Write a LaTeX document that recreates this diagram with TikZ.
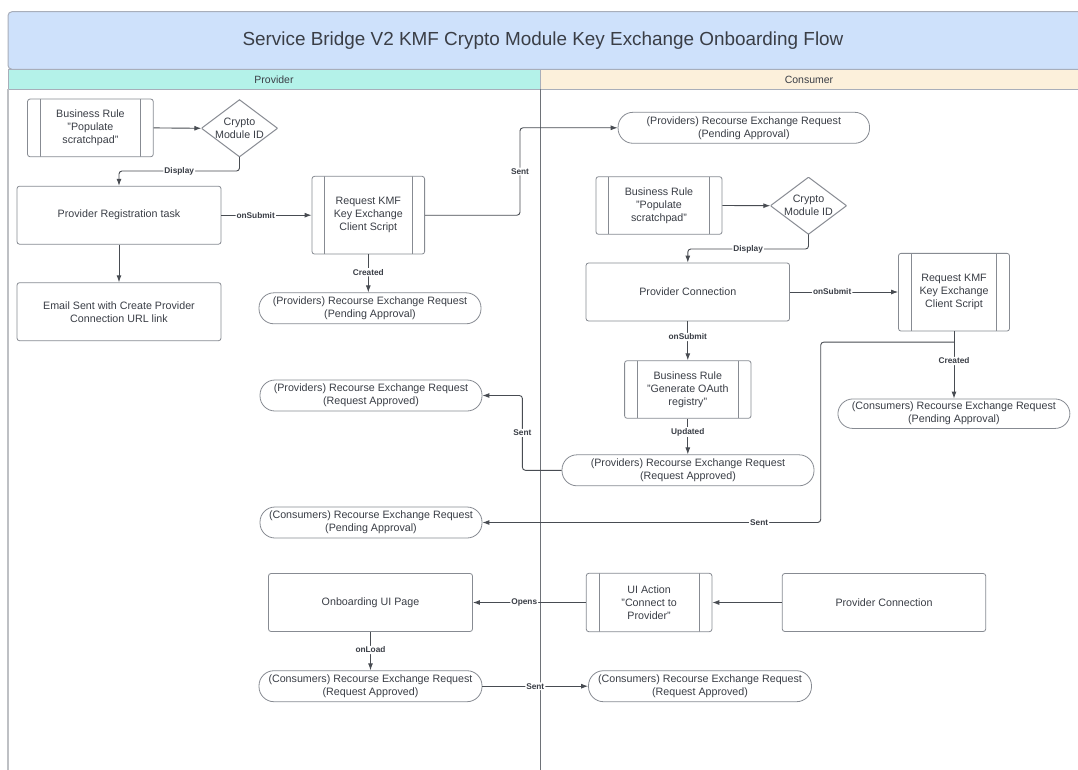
\documentclass[tikz,border=0pt]{standalone}
\usepackage{fontspec}
\setmainfont{Liberation Sans}
\usetikzlibrary{arrows.meta,calc}
\definecolor{titlefill}{RGB}{206,225,251}
\definecolor{provfill}{RGB}{180,242,233}
\definecolor{consfill}{RGB}{252,240,219}
\definecolor{bandline}{RGB}{168,174,186}
\definecolor{nodeline}{RGB}{135,139,146}
\definecolor{txt}{RGB}{58,62,70}
\definecolor{arrcol}{RGB}{72,76,82}
\definecolor{laneline}{RGB}{110,114,120}
\definecolor{leftline}{RGB}{190,192,196}
\begin{document}
\begin{tikzpicture}[x=1pt,y=-1pt,
  base/.style={draw=nodeline, line width=0.8pt, fill=white, text=txt,
    font=\fontsize{10.7}{13}\selectfont, align=center, inner sep=0pt},
  task/.style={base, rounded corners=2.5pt, minimum width=204, minimum height=58},
  proc/.style={base, rounded corners=2.5pt,
    path picture={\draw[nodeline, line width=0.8pt]
      ([xshift=12.7pt]path picture bounding box.north west) -- ([xshift=12.7pt]path picture bounding box.south west)
      ([xshift=-12.7pt]path picture bounding box.north east) -- ([xshift=-12.7pt]path picture bounding box.south east);}},
  pill/.style={base, rounded corners=15pt, minimum height=31},
  diam/.style={text=txt, font=\fontsize{10.7}{13}\selectfont, align=center, inner sep=0pt,
    minimum width=76, minimum height=57,
    path picture={\draw[nodeline, line width=1pt, fill=white]
      (path picture bounding box.north) -- (path picture bounding box.east) --
      (path picture bounding box.south) -- (path picture bounding box.west) -- cycle;}},
  arr/.style={draw=arrcol, line width=0.9pt, rounded corners=3pt, -{Latex[length=7pt,width=5pt]}},
  plain/.style={draw=arrcol, line width=0.9pt, rounded corners=3pt},
  lbl/.style={font=\fontsize{8.3}{9}\selectfont\bfseries, text=txt, fill=white, inner sep=1pt},
  hdr/.style={font=\fontsize{10.5}{12}\selectfont, text=txt},
]
\useasboundingbox (0,0) rectangle (1078,770);
\fill[white] (0,0) rectangle (1078,770);

% title and lane headers
\draw[draw=bandline, fill=titlefill, line width=1pt, rounded corners=4pt] (8,69.3) -- (8,11.7) -- (1090,11.7) -- (1090,69.3) -- cycle;
\node[font=\fontsize{18.9}{22}\selectfont, text=txt] (title) at (543,40.5) {Service Bridge V2 KMF Crypto Module Key Exchange Onboarding Flow};
\draw[draw=bandline, fill=provfill, line width=1pt] (8,69.3) rectangle (540.4,89.5);
\draw[draw=bandline, fill=consfill, line width=1pt] (540.4,69.3) rectangle (1090,89.5);
\node[hdr] (provh) at (274,79.4) {Provider};
\node[hdr] (consh) at (809,79.4) {Consumer};
\draw[leftline, line width=1.6pt] (8,89.5) -- (8,775);
\draw[laneline, line width=0.9pt] (540.4,89.5) -- (540.4,775);

% helper coordinates for connector bends
\coordinate (sx1) at (520,0);
\coordinate (sx2) at (522.4,0);
\coordinate (sx3) at (820.7,0);

% provider lane
\node[proc, minimum width=125.7, minimum height=57.7] (br1) at (90.4,127.9) {Business Rule\\"Populate\\scratchpad"};
\node[diam] (d1) at (239.5,128.3) {Crypto\\Module ID};
\node[task] (prt) at (119,215.2) {Provider Registration task};
\node[task] (email) at (119,311.7) {Email Sent with Create Provider\\Connection URL link};
\node[proc, minimum width=112.6, minimum height=77.7] (rk1) at (368.3,215.2) {Request KMF\\Key Exchange\\Client Script};
\node[pill, minimum width=222] (per1) at (370,308.3) {(Providers) Recourse Exchange Request\\(Pending Approval)};
\node[pill, minimum width=222] (pra1) at (371,395.5) {(Providers) Recourse Exchange Request\\(Request Approved)};
\node[pill, minimum width=222] (cpa2) at (371,522.5) {(Consumers) Recourse Exchange Request\\(Pending Approval)};
\node[task] (oui) at (370.5,602.5) {Onboarding UI Page};
\node[pill, minimum width=223] (cra) at (370.5,686.2) {(Consumers) Recourse Exchange Request\\(Request Approved)};

% consumer lane
\node[pill, minimum width=251.5] (ppa) at (743.8,127.8) {(Providers) Recourse Exchange Request\\(Pending Approval)};
\node[proc, minimum width=126, minimum height=57.6] (br2) at (659,205.5) {Business Rule\\"Populate\\scratchpad"};
\node[diam] (d2) at (808.5,205.7) {Crypto\\Module ID};
\node[task, minimum width=203.5] (pc) at (687.8,292) {Provider Connection};
\node[proc, minimum width=111, minimum height=77.7] (rk2) at (954,292.2) {Request KMF\\Key Exchange\\Client Script};
\node[pill, minimum width=232, minimum height=29.5] (cpa) at (953.9,413.7) {(Consumers) Recourse Exchange Request\\(Pending Approval)};
\node[proc, minimum width=126.4, minimum height=57.6] (br3) at (687.8,389.5) {Business Rule\\"Generate OAuth\\registry"};
\node[pill, minimum width=252] (pra2) at (688,470.3) {(Providers) Recourse Exchange Request\\(Request Approved)};
\node[proc, minimum width=125.6, minimum height=58.4] (uia) at (649.1,602.5) {UI Action\\"Connect to\\Provider"};
\node[task, minimum width=203.4] (pc2) at (884,602.5) {Provider Connection};
\node[pill, minimum width=223] (cra2) at (700,686.2) {(Consumers) Recourse Exchange Request\\(Request Approved)};

% connectors, provider side
\draw[arr] (br1.east) -- (d1.west);
\draw[arr] (d1.south) -- ++(0,14) -| node[lbl, pos=0.25] {Display} (prt.north);
\draw[arr] (prt) -- (email);
\draw[arr] (prt.east) -- node[lbl, pos=0.38] {onSubmit} (rk1.west);
\draw[arr] (rk1.south) -- node[lbl, pos=0.47] {Created} (rk1.south |- per1.north);
\draw[arr] (rk1.east) -- (rk1.east -| sx1) |- node[lbl, pos=0.25] {Sent} (ppa.west);

% connectors, consumer side
\draw[arr] (br2.east) -- (d2.west);
\draw[arr] (d2.south) -- ++(0,14.6) -| node[lbl, pos=0.25] {Display} (pc.north);
\draw[arr] (pc.east) -- node[lbl, pos=0.39] {onSubmit} (rk2.west |- pc.east);
\draw[arr] (pc.south) -- node[lbl, pos=0.4] {onSubmit} (br3.north);
\draw[arr] (br3.south) -- node[lbl, pos=0.37] {Updated} (br3.south |- pra2.north);
\draw[arr] (pra2.west) -- (pra2.west -| sx2) |- node[lbl, pos=0.25] {Sent} (pra1.east);
\draw[arr] (rk2.south) -- node[lbl, pos=0.44] {Created} (rk2.south |- cpa.north);
\coordinate (jn) at ($(rk2.south)+(0,10.7)$);
\draw[arr] (jn) -- (jn -| sx3) |- node[lbl, pos=0.591] {Sent} (cpa2.east);
\draw[arr] (pc2.west) -- (uia.east);
\draw[arr] (uia.west) -- node[lbl, pos=0.546] {Opens} (oui.east);
\draw[arr] (oui.south) -- node[lbl, pos=0.47] {onLoad} (cra.north);
\draw[arr] (cra.east) -- node[lbl, pos=0.5] {Sent} (cra2.west);
\end{tikzpicture}
\end{document}
